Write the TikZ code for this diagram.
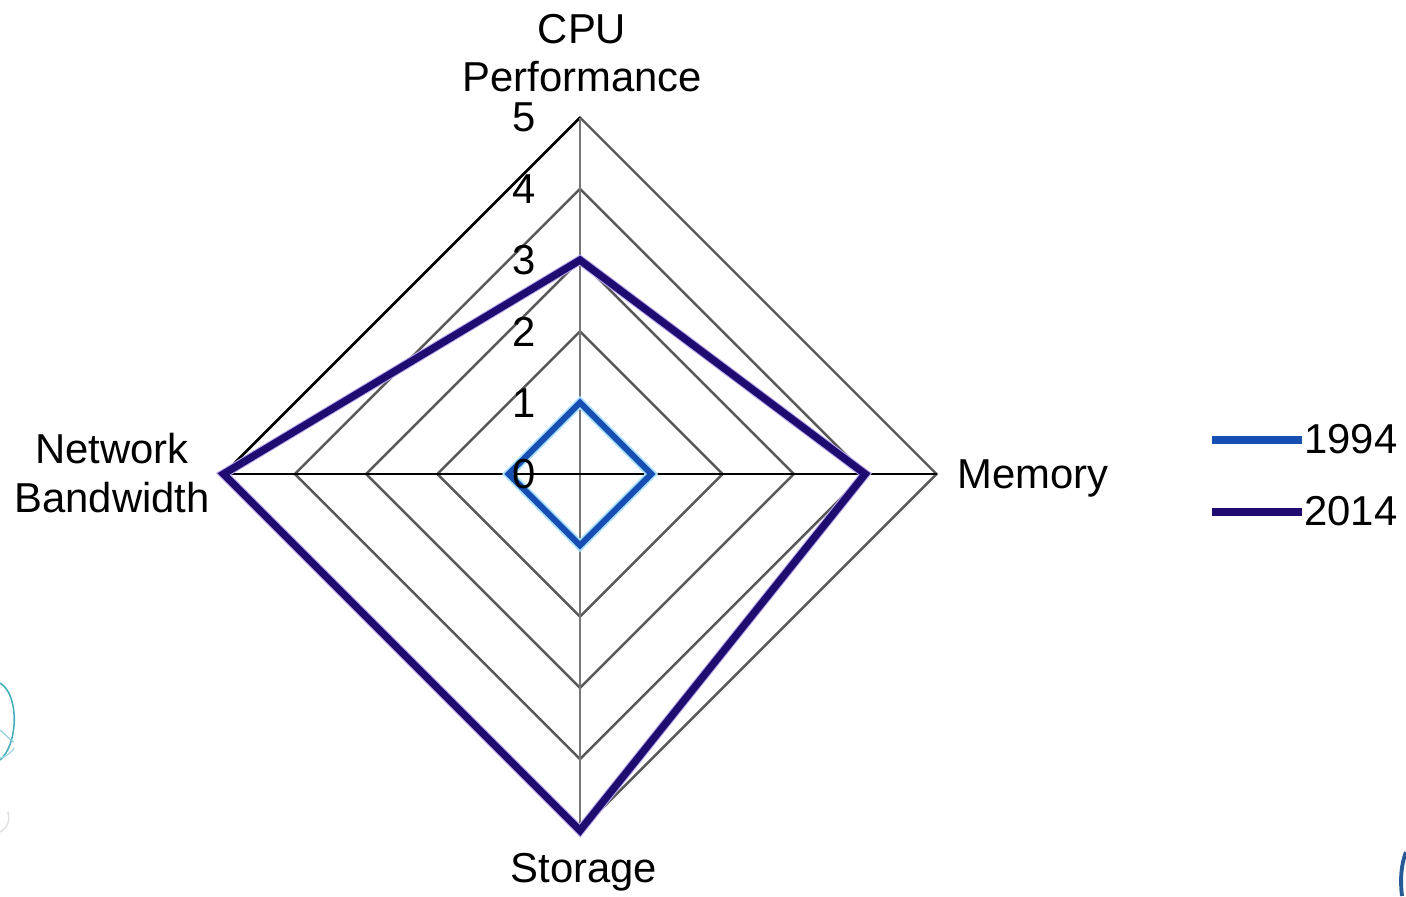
\documentclass[tikz,border=0pt]{standalone}
\usepackage{fontspec}
\setmainfont{Liberation Sans}
\definecolor{gridgray}{RGB}{88,88,88}
\definecolor{axisgray}{RGB}{120,120,120}
\definecolor{sNinetyFour}{RGB}{22,78,178}
\definecolor{sTwentyFourteen}{RGB}{32,12,112}
\definecolor{haloBlue}{RGB}{170,225,250}
\definecolor{haloViolet}{RGB}{190,170,240}
\definecolor{swirl}{RGB}{70,175,190}
\definecolor{cornerblue}{RGB}{40,90,150}
\begin{document}
\begin{tikzpicture}[x=0.02cm,y=-0.02cm,
  lbl/.style={font=\fontsize{23.8}{28}\selectfont,inner sep=0pt},
  gridline/.style={draw=gridgray,line width=1.4pt},
  axisline/.style={line width=1.4pt},
  seriesA/.style={draw=sNinetyFour,line width=3.4pt,line join=miter},
  seriesB/.style={draw=sTwentyFourteen,line width=4.2pt,line join=miter},
  halo/.style={line width=5.4pt,line join=miter}]
\useasboundingbox (0,0) rectangle (1406,896);

% centre and radial unit
\def\u{71.3}
\coordinate (O) at (580,474);
\coordinate (top) at (580,{474-5*\u});
\coordinate (right) at ({580+5*\u},474);
\coordinate (bottom) at (580,{474+5*\u});
\coordinate (left) at ({580-5*\u},474);

% rings 1..5
\foreach \k in {1,...,5}{
  \draw[gridline] (580,{474-\k*\u}) -- ({580+\k*\u},474) -- (580,{474+\k*\u})
     -- ({580-\k*\u},474) -- cycle;
}
\draw[axisline,black] (left) -- (top);

% axes
\draw[axisline,axisgray] (top) -- (bottom);
\draw[axisline,black] (left) -- (right);

% 1994 series: 1,1,1,1
\draw[halo,haloBlue] (580,{474-\u}) -- ({580+\u},474) -- (580,{474+\u}) -- ({580-\u},474) -- cycle;
\draw[seriesA] (580,{474-\u}) -- ({580+\u},474) -- (580,{474+\u}) -- ({580-\u},474) -- cycle;

% 2014 series: CPU 3, memory 4, storage 5, bandwidth 5
\draw[halo,haloViolet] (580,{474-3*\u}) -- ({580+4*\u},474) -- (bottom) -- (left) -- cycle;
\draw[seriesB] (580,{474-3*\u}) -- ({580+4*\u},474) -- (bottom) -- (left) -- cycle;

% scale labels on the CPU axis
\foreach \k in {0,...,5}{
  \node[lbl] (tick\k) at (524,{474-\k*\u}) {\k};
}

% axis titles
\node[lbl,anchor=base] (cpuA) at (582,43) {CPU};
\node[lbl,anchor=base] (cpuB) at (582,91) {Performance};
\node[lbl,anchor=base west] (mem) at (957,488) {Memory};
\node[lbl,anchor=base] (sto) at (584,882) {Storage};
\node[lbl,anchor=base] (netA) at (112,463) {Network};
\node[lbl,anchor=base] (netB) at (112,512) {Bandwidth};

% legend
\coordinate (l1a) at (1212,440);
\coordinate (l1b) at (1302,440);
\coordinate (l2a) at (1212,512);
\coordinate (l2b) at (1302,512);
\draw[seriesA,line width=4.4pt] (l1a) -- (l1b);
\draw[seriesB,line width=4.4pt] (l2a) -- (l2b);
\node[lbl,anchor=base west] (leg1) at (1304,453) {1994};
\node[lbl,anchor=base west] (leg2) at (1304,525) {2014};

% page ornaments at the edges
\begin{scope}
\clip (0,0) rectangle (1406,896);
\draw[swirl,line width=0.9pt] (0,683) .. controls (20,695) and (18,745) .. (0,760);
\draw[swirl!60,line width=0.7pt] (0,730) .. controls (6,735) and (10,740) .. (14,742);
\draw[swirl!50,line width=0.7pt] (0,758) .. controls (8,756) and (12,752) .. (14,748);
\draw[gray!25,line width=0.8pt] (0,832) .. controls (8,828) and (10,820) .. (8,812);
\draw[cornerblue,line width=2.2pt] (1406,852) .. controls (1401,865) and (1400,880) .. (1402,896);
\end{scope}
\end{tikzpicture}
\end{document}
